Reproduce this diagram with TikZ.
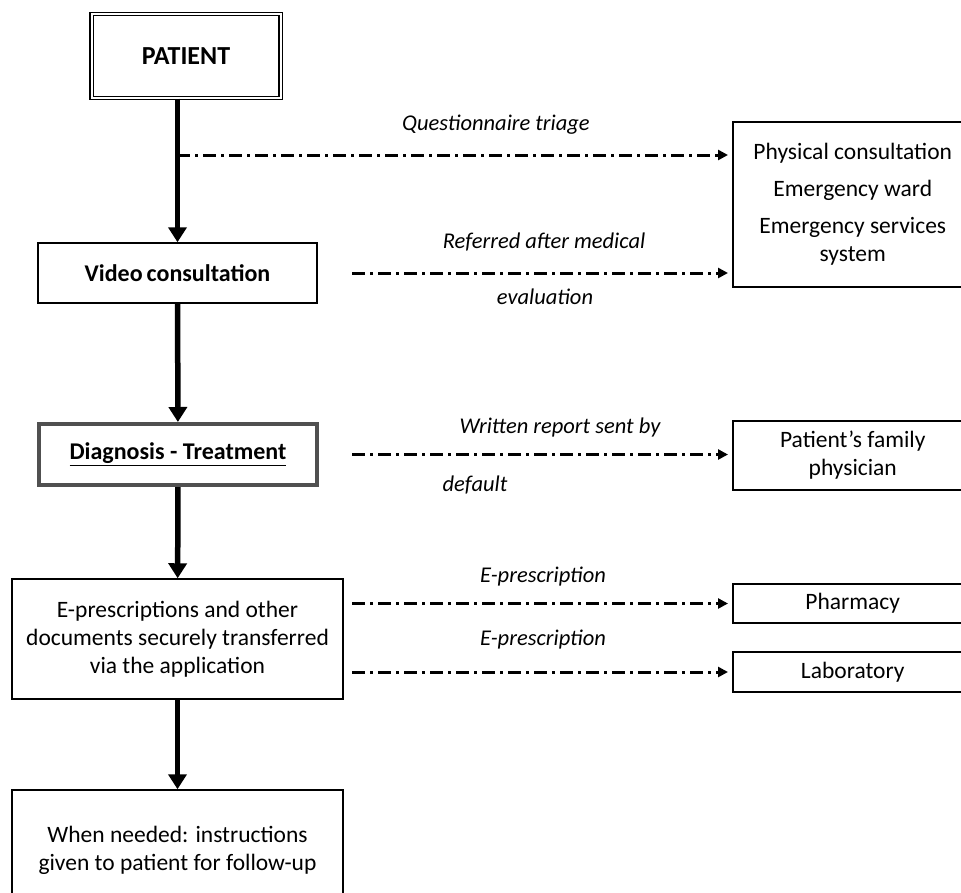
\documentclass[tikz,border=0pt]{standalone}
\usepackage{fontspec}
\setmainfont{Carlito}
\usepackage{xcolor}
\usepackage{tikz}
\usetikzlibrary{arrows.meta,shapes,shapes.geometric}
\usetikzlibrary{positioning}

\definecolor{diagframe}{HTML}{505050}

\begin{document}
\begin{tikzpicture}[x=1pt, y=-1pt,
  box/.style={draw, line width=1.5pt, align=center, inner sep=0pt,
    font=\fontsize{23.5}{28}\selectfont},
  sidebox/.style={box, anchor=west, minimum width=240pt},
  lbl/.style={font=\fontsize{22.5}{26}\selectfont\itshape},
  flow/.style={line width=5.5pt, -{Triangle[length=15pt,width=18pt]}},
  refer/.style={line width=3pt, dash pattern=on 13pt off 5pt on 3pt off 5pt,
    -{Triangle[length=10pt,width=10pt]}, shorten >=4pt}]

\useasboundingbox (0,0) rectangle (961,892);

% main column
\node[box, double, line width=1.2pt, double distance=2pt,
  minimum width=189pt, minimum height=84pt,
  font=\fontsize{26}{30}\selectfont\bfseries] (patient) at (186,56) {PATIENT};

\node[box, minimum width=279pt, minimum height=60pt,
  font=\fontsize{24}{28}\selectfont\bfseries] (video) at (177.5,273) {Video\,consultation};

\node[box, draw=diagframe, line width=4pt, minimum width=278pt, minimum height=61pt,
  font=\fontsize{24}{28}\selectfont\bfseries] (diag) at (178,454.5) {\underline{Diagnosis - Treatment}};

\node[box, minimum width=331pt, minimum height=120pt] (docs) at (177.5,639)
  {E-prescriptions and other\\ documents securely transferred\\ via the application};

\node[box, minimum width=331pt, minimum height=120pt] (followup) at (177.5,850)
  {When needed: instructions\\ given to patient for follow-up};

\path[draw] [flow] (patient.south -| video.north) -- (video.north);
\path[draw] [flow] (video) -- (diag);
\path[draw] [flow] (diag) -- (docs);
\path[draw] [flow] (docs) -- (followup);

% side boxes
\node[sidebox, minimum height=165pt] (referral) at (732,204.5)
  {Physical consultation\\[9pt] Emergency ward\\[9pt] Emergency services\\ system};
\node[sidebox, minimum height=69pt] (famdoc) at (732,455.5) {Patient's family\\ physician};
\node[sidebox, minimum height=39pt] (pharm) at (732,603.5) {Pharmacy};
\node[sidebox, minimum height=40pt] (lab) at (732,672) {Laboratory};

% dash-dot connectors
\coordinate (triage) at (177,155);
\coordinate (col) at (352,0);
\path[draw] [refer] (triage) -- (referral.west |- triage);
\path[draw] [refer] (col |- video) -- (referral.west |- video);
\path[draw] [refer] (col |- diag) -- (famdoc.west |- diag);
\path[draw] [refer] (col |- pharm) -- (pharm.west);
\path[draw] [refer] (col |- lab) -- (lab.west);

% connector labels
\node[lbl] (ltriage) at (496,125) {Questionnaire triage};
\node[lbl] (lrefa) at (544,242) {Referred after medical};
\node[lbl] (lrefb) at (545,297) {evaluation};
\node[lbl] (lrepa) at (560,427) {Written report sent by};
\node[lbl] (lrepb) at (475,485) {default};
\node[lbl] (lpharm) at (543,577) {E-prescription};
\node[lbl] (llab) at (543,640) {E-prescription};

\end{tikzpicture}
\end{document}
